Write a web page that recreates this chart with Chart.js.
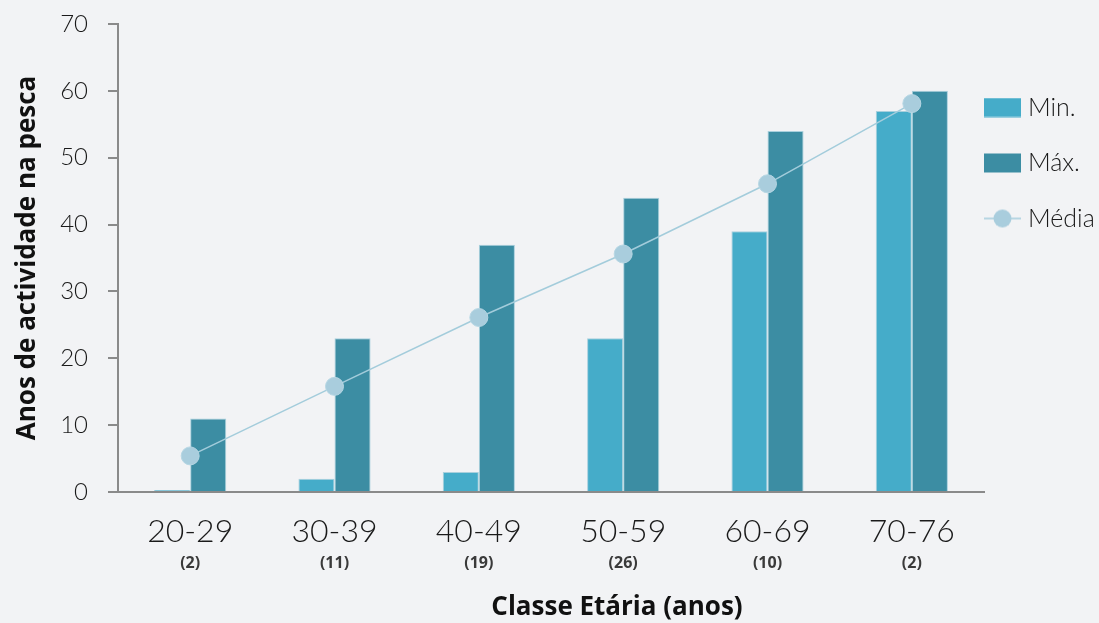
<!DOCTYPE html>
<html>
<head>
<meta charset="utf-8">
<script src="https://cdn.jsdelivr.net/npm/chart.js@4"></script>
<style>
    html, body { margin: 0; padding: 0; background: #f2f3f5; }
    #wrap { width: 1099px; height: 623px; position: relative; }
</style>
</head>
<body>
<div id="wrap"><canvas id="ageChart"></canvas></div>
<script>
// Data
const categories = ['20-29', '30-39', '40-49', '50-59', '60-69', '70-76'];
const groupCounts = [2, 11, 19, 26, 10, 2];
const minValues = [0.3, 2, 3, 23, 39, 57];
const maxValues = [11, 23, 37, 44, 54, 60];
const meanValues = [5.4, 15.8, 26.1, 35.6, 46.1, 58.1];
const yTicks = [0, 10, 20, 30, 40, 50, 60, 70];

// Colors
const colors = {
    min: '#45acc9',
    max: '#3c8da3',
    barEdge: '#a9d0dd',
    meanLine: '#a3ccdb',
    meanPoint: '#a9cddd',
    axis: '#8a8a8a',
    text: '#1a1a1a'
};

const lightFont = "'Lato', 'Open Sans', sans-serif";
const boldFont = "'Open Sans', sans-serif";

// Legend swatches (drawn as small canvases so all three line up)
function makeSwatch(kind, color) {
    const c = document.createElement('canvas');
    c.width = 37;
    c.height = 20;
    const g = c.getContext('2d');
    if (kind === 'rect') {
        g.fillStyle = color;
        g.fillRect(0, 0.5, 37, 19);
    } else {
        g.strokeStyle = colors.meanLine;
        g.lineWidth = 1.5;
        g.beginPath();
        g.moveTo(0, 10);
        g.lineTo(37, 10);
        g.stroke();
        g.fillStyle = colors.meanPoint;
        g.beginPath();
        g.arc(18.5, 10, 9, 0, Math.PI * 2);
        g.fill();
    }
    return c;
}

const swatches = [
    makeSwatch('rect', colors.min),
    makeSwatch('rect', colors.max),
    makeSwatch('line')
];

// Place legend next to the plot area, like the original
const LEGEND_PAD = 30.5;
const legendPlacer = {
    id: 'legendPlacer',
    afterLayout(chart) {
        const lg = chart.legend;
        if (!lg) return;
        const dx = (chart.chartArea.right + 5.5) - (lg.left + LEGEND_PAD);
        const dy = 95 - (lg.top + LEGEND_PAD);
        lg.left += dx;
        lg.right = chart.width;
        lg.width = lg.right - lg.left;
        lg.top += dy;
        lg.bottom += dy;
    }
};

// Group sizes under the categories and the x axis title
const xAnnotations = {
    id: 'xAnnotations',
    afterDraw(chart) {
        const ctx = chart.ctx;
        const xScale = chart.scales.x;
        ctx.save();
        ctx.textAlign = 'center';
        ctx.textBaseline = 'middle';
        ctx.fillStyle = '#3a3a3a';
        ctx.font = 'bold 16px ' + boldFont;
        groupCounts.forEach((n, i) => {
            ctx.fillText('(' + n + ')', xScale.getPixelForTick(i), 563);
        });
        ctx.fillStyle = '#111';
        ctx.font = 'bold 26px ' + boldFont;
        ctx.fillText('Classe Etária (anos)', 617, 608);
        ctx.restore();
    }
};

const ctx = document.getElementById('ageChart').getContext('2d');
const ageChart = new Chart(ctx, {
    data: {
        labels: categories,
        datasets: [
            {
                type: 'bar',
                label: 'Min.',
                data: minValues,
                backgroundColor: colors.min,
                borderColor: colors.barEdge,
                borderWidth: 1,
                order: 1
            },
            {
                type: 'bar',
                label: 'Máx.',
                data: maxValues,
                backgroundColor: colors.max,
                borderColor: colors.barEdge,
                borderWidth: 1,
                order: 1
            },
            {
                type: 'line',
                label: 'Média',
                data: meanValues,
                borderColor: colors.meanLine,
                borderWidth: 1.5,
                pointRadius: 9,
                pointBackgroundColor: colors.meanPoint,
                pointBorderColor: '#b6d6e3',
                pointBorderWidth: 1,
                tension: 0,
                order: 0
            }
        ]
    },
    options: {
        responsive: true,
        maintainAspectRatio: false,
        animation: false,
        layout: {
            padding: { top: 24, left: 12, right: 0, bottom: 0 }
        },
        datasets: {
            bar: {
                categoryPercentage: 0.5,
                barPercentage: 1
            }
        },
        plugins: {
            legend: {
                position: 'right',
                align: 'start',
                maxWidth: 115,
                sort: (a, b) => a.datasetIndex - b.datasetIndex,
                labels: {
                    usePointStyle: true,
                    pointStyleWidth: 26,
                    boxHeight: 19,
                    padding: LEGEND_PAD,
                    color: colors.text,
                    font: { family: lightFont, size: 25, weight: '300' },
                    generateLabels(chart) {
                        return chart.data.datasets.map((ds, i) => ({
                            text: ds.label,
                            datasetIndex: i,
                            pointStyle: swatches[i],
                            fillStyle: 'transparent',
                            strokeStyle: 'transparent',
                            lineWidth: 0,
                            fontColor: colors.text,
                            hidden: !chart.isDatasetVisible(i)
                        }));
                    }
                }
            },
            tooltip: { enabled: false }
        },
        scales: {
            x: {
                afterFit(scale) { scale.height = 131; },
                grid: { display: false, drawTicks: false },
                border: { display: true, color: colors.axis, width: 2 },
                ticks: {
                    padding: 20,
                    color: colors.text,
                    font: { family: lightFont, size: 32, weight: '300' }
                }
            },
            y: {
                min: 0,
                max: 70,
                afterFit(scale) {
                    scale.width = 106;
                    scale.paddingTop = 0;
                    scale.paddingBottom = 0;
                },
                afterBuildTicks(scale) {
                    scale.ticks = yTicks.map(v => ({ value: v }));
                },
                grid: {
                    display: true,
                    drawOnChartArea: false,
                    drawTicks: true,
                    tickLength: 10,
                    color: colors.axis,
                    lineWidth: 2
                },
                border: { display: true, color: colors.axis, width: 2 },
                ticks: {
                    padding: 20,
                    color: colors.text,
                    font: { family: lightFont, size: 24, weight: '300' }
                },
                title: {
                    display: true,
                    text: 'Anos de actividade na pesca',
                    color: '#111',
                    padding: { top: 0, bottom: 0 },
                    font: { family: boldFont, size: 26, weight: 'bold' }
                }
            }
        }
    },
    plugins: [legendPlacer, xAnnotations]
});
</script>
</body>
</html>
